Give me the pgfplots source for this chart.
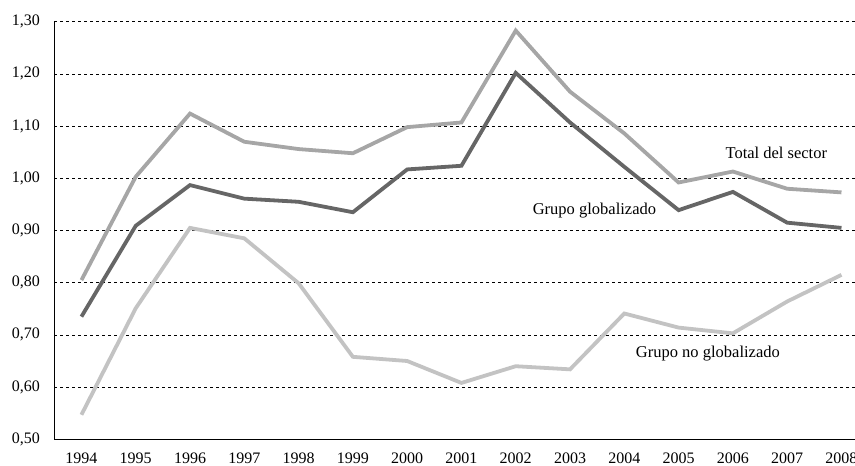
\documentclass[border=0pt]{standalone}
\usepackage{pgfplots}
\pgfplotsset{compat=1.18}
\usepackage{fontspec}
\setmainfont{Liberation Serif}
\definecolor{cTotal}{HTML}{A6A6A6}
\definecolor{cGlob}{HTML}{666666}
\definecolor{cNoGlob}{HTML}{C3C3C3}
\begin{document}
\fontsize{16}{19}\selectfont
\begin{tikzpicture}
\begin{axis}[
  at={(0,0)}, anchor=south west,
  scale only axis, width=814.3pt, height=417.6pt,
  xmin=1993.5, xmax=2008.5, ymin=0.5, ymax=1.3,
  axis x line*=bottom, axis y line*=left,
  axis line style={-, black, line width=1.2pt},
  xtick={1994,1995,1996,1997,1998,1999,2000,2001,2002,2003,2004,2005,2006,2007,2008},
  ytick={0.5,0.6,0.7,0.8,0.9,1.0,1.1,1.2,1.3},
  major tick length=0pt,
  ymajorgrids,
  grid style={black, dash pattern=on 3pt off 3pt, line width=0.7pt},
  tick label style={font=\fontsize{16}{19}\selectfont},
  /pgf/number format/assume math mode=true,
  x tick label style={/pgf/number format/1000 sep={}, yshift=-8pt},
  y tick label style={/pgf/number format/.cd, use comma, fixed, fixed zerofill, precision=2, /tikz/.cd, xshift=-9pt},
  every axis plot/.append style={line width=3.8pt, no markers},
  clip=false,
]
\addplot[color=cNoGlob] coordinates {
(1994,0.547) (1995,0.751) (1996,0.905) (1997,0.885) (1998,0.799) (1999,0.658) (2000,0.650) (2001,0.608) (2002,0.640) (2003,0.634) (2004,0.741) (2005,0.714) (2006,0.703) (2007,0.764) (2008,0.815)};
\addplot[color=cTotal] coordinates {
(1994,0.805) (1995,1.003) (1996,1.124) (1997,1.070) (1998,1.056) (1999,1.048) (2000,1.098) (2001,1.107) (2002,1.283) (2003,1.166) (2004,1.086) (2005,0.992) (2006,1.013) (2007,0.980) (2008,0.973)};
\addplot[color=cGlob] coordinates {
(1994,0.735) (1995,0.909) (1996,0.987) (1997,0.961) (1998,0.955) (1999,0.935) (2000,1.017) (2001,1.024) (2002,1.202) (2003,1.107) (2004,1.022) (2005,0.939) (2006,0.974) (2007,0.915) (2008,0.905)};
\node[font=\fontsize{16.5}{19}\selectfont] at (axis cs:2006.80,1.049) {Total del sector};
\node[font=\fontsize{16.5}{19}\selectfont] at (axis cs:2003.45,0.939) {Grupo globalizado};
\node[font=\fontsize{16.5}{19}\selectfont] at (axis cs:2005.54,0.664) {Grupo no globalizado};
\end{axis}
\pgfresetboundingbox
\path[use as bounding box] (-54.3pt,-26.7pt) rectangle (800.7pt,439.3pt);
\end{tikzpicture}
\end{document}
